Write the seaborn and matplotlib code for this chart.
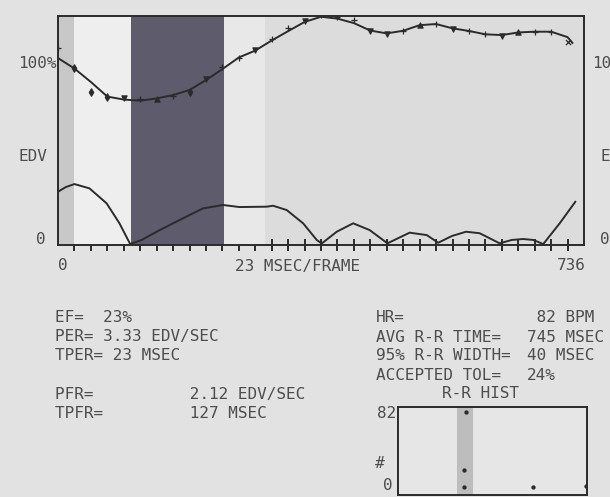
import matplotlib
matplotlib.use('Agg')
import matplotlib.pyplot as plt
import seaborn as sns
import pandas as pd

# кривая объема ЛЖ (% EDV), один кадр = 23 мс
frame_ms = [k * 23 for k in range(32)] + [720]
edv_fit = [100, 94.4, 87.2, 79.4, 77.8, 77.2, 78.4, 80.2, 82.9, 88.2, 94.1, 100.3,
           104.0, 109.4, 114.4, 119.3, 122.1, 121.1, 118.7, 114.7, 113.2, 114.6,
           117.6, 118.2, 115.9, 114.5, 112.7, 112.3, 113.7, 114.1, 114.1, 111.2, 108.0]

# исходные точки (маркеры)
raw_ms = [k * 23 for k in range(32)]
edv_raw = [105.2, 94.5, 82.0, 79.3, 78.8, 78.1, 78.1, 79.7, 82.0, 88.6, 95.3, 99.8,
           104.3, 110.0, 115.9, 120.0, 123.0, 122.0, 120.3, 114.4, 112.8, 114.4,
           117.6, 118.2, 115.5, 114.4, 112.8, 111.8, 113.9, 114.2, 114.2, 108.6]
raw_kind = ['+', 'd', 'd', 'd', 'v', '+', '^', '+', 'd', 'v', '+', '+',
            'v', '+', '+', 'v', '+', '+', '+', 'v', 'v', '+',
            '^', '+', 'v', '+', '+', 'v', '^', '+', '+', 'x']

# |dV/dt|
rate_ms = [0, 11, 23, 44, 68, 86, 101, 117, 138, 161, 184, 203, 231, 254, 292, 301,
           320, 343, 362, 369, 390, 413, 436, 461, 492, 516, 532, 551, 571, 590,
           618, 635, 651, 665, 679, 702, 724]
rate_val = [28.5, 31.0, 32.6, 30.3, 22.3, 11.6, 0.5, 2.7, 7.1, 11.6, 16.0, 19.6, 21.4,
            20.3, 20.5, 21.0, 18.7, 11.6, 2.7, 0.8, 7.1, 11.6, 8.0, 0.9, 6.6, 5.3,
            1.2, 4.8, 7.1, 6.3, 0.9, 2.7, 3.2, 2.7, 0.5, 11.6, 23.2]

# гистограмма R-R
hist_ms = [750, 736, 736, 1500, 2090]
hist_cnt = [82, 18, 0, 0, 1]

left_lines = ['EF=  23%', 'PER= 3.33 EDV/SEC', 'TPER= 23 MSEC',
              'PFR=          2.12 EDV/SEC', 'TPFR=         127 MSEC']
left_rows = [318, 337, 356, 394, 413]
right_lines = ['HR=', 'AVG R-R TIME=', '95% R-R WIDTH=', 'ACCEPTED TOL=']
right_vals = [' 82 BPM', '745 MSEC', '40 MSEC', '24%']
right_rows = [318, 337, 356, 375]

sns.set_style('white')
plt.rcParams['font.family'] = ['DejaVu Sans Mono']
ink = '#2b2b2b'
txt = '#4d4d4d'
fs = 11.5

W, H = 610, 497
fig = plt.figure(figsize=(6.10, 4.97), dpi=100, facecolor='#e2e2e2')


def px(x, y):
    return x / W, 1 - y / H


ax = fig.add_axes([58 / W, 1 - 245 / H, 526 / W, 229 / H])
ax.set_xlim(0, 736)
ax.set_ylim(0, 122.5)
ax.set_facecolor('#dcdcdc')
ax.axvspan(0, 23, color='#c8c8c8', lw=0)
ax.axvspan(23, 102, color='#eeeeee', lw=0)
ax.axvspan(102, 232, color='#5d5b6c', lw=0)
ax.axvspan(232, 290, color='#e8e8e8', lw=0)

df_fit = pd.DataFrame({'ms': frame_ms, 'v': edv_fit})
df_rate = pd.DataFrame({'ms': rate_ms, 'v': rate_val})
sns.lineplot(data=df_fit, x='ms', y='v', ax=ax, color=ink, lw=1.4)
sns.lineplot(data=df_rate, x='ms', y='v', ax=ax, color=ink, lw=1.4)

df_raw = pd.DataFrame({'ms': raw_ms, 'v': edv_raw, 'k': raw_kind})
for k, g in df_raw.groupby('k'):
    sns.scatterplot(data=g, x='ms', y='v', ax=ax, marker=k, s=14,
                    color=ink, edgecolor=ink, linewidth=0.9)

ax.set_xticks([0, 736])
ax.set_xticklabels([])
ax.set_xticks([k * 23 for k in range(1, 32)], minor=True)
ax.tick_params(axis='x', which='minor', direction='inout', length=9, width=1.4, color=ink, bottom=True)
ax.tick_params(axis='x', which='major', length=0)
ax.set_yticks([])
ax.set_xlabel('')
ax.set_ylabel('')
for s in ax.spines.values():
    s.set_color(ink)
    s.set_linewidth(1.4)

# подписи осей (текстовый режим)
fig.text(*px(58, 266), '0', ha='left', va='center', fontsize=fs, color=txt)
fig.text(*px(235, 266), '23 MSEC/FRAME', ha='left', va='center', fontsize=fs, color=txt)
fig.text(*px(586, 266), '736', ha='right', va='center', fontsize=fs, color=txt)
fig.text(*px(18, 64), '100%', ha='left', va='center', fontsize=fs, color=txt)
fig.text(*px(18, 156), 'EDV', ha='left', va='center', fontsize=fs, color=txt)
fig.text(*px(46, 240), '0', ha='right', va='center', fontsize=fs, color=txt)
fig.text(*px(592, 64), '10', ha='left', va='center', fontsize=fs, color=txt)
fig.text(*px(600, 156), 'E', ha='left', va='center', fontsize=fs, color=txt)
fig.text(*px(600, 240), '0', ha='left', va='center', fontsize=fs, color=txt)

for s, y in zip(left_lines, left_rows):
    fig.text(*px(55, y), s, ha='left', va='center', fontsize=fs, color=txt)
for s, v, y in zip(right_lines, right_vals, right_rows):
    fig.text(*px(376, y), s, ha='left', va='center', fontsize=fs, color=txt)
    fig.text(*px(527, y), v, ha='left', va='center', fontsize=fs, color=txt)
fig.text(*px(442, 394), 'R-R HIST', ha='left', va='center', fontsize=fs, color=txt)

# гистограмма R-R
hx = fig.add_axes([398 / W, 1 - 495 / H, 189 / W, 88 / H])
hx.set_xlim(0, 2100)
hx.set_ylim(-9, 87)
hx.set_facecolor('#e6e6e6')
hx.axvspan(656, 834, color='#bdbdbd', lw=0)
df_h = pd.DataFrame({'ms': hist_ms, 'n': hist_cnt})
sns.scatterplot(data=df_h, x='ms', y='n', ax=hx, color=ink, s=8, edgecolor=ink)
hx.set_xticks([])
hx.set_yticks([])
hx.set_xlabel('')
hx.set_ylabel('')
for s in hx.spines.values():
    s.set_color(ink)
    s.set_linewidth(1.4)
fig.text(*px(396, 413), '82', ha='right', va='center', fontsize=fs, color=txt)
fig.text(*px(380, 463), '#', ha='center', va='center', fontsize=fs, color=txt)
fig.text(*px(393, 486), '0', ha='right', va='center', fontsize=fs, color=txt)

fig.savefig('out.png', dpi=100, facecolor=fig.get_facecolor())
